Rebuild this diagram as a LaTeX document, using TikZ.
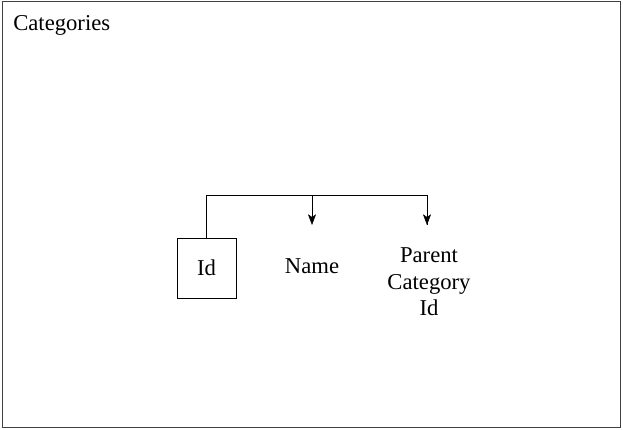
\documentclass[tikz,border=0pt]{standalone}
\usepackage{fontspec}
\setmainfont{Liberation Serif}
\usetikzlibrary{positioning, arrows.meta}
\tikzset{
    attr/.style={font=\fontsize{17}{20}\selectfont, align=center, inner sep=0pt},
    keybox/.style={attr, draw, minimum width=44.25pt, minimum height=45pt},
    link/.style={-{Stealth[length=8pt, width=6pt, inset=2pt]}}
}
\begin{document}
\begin{tikzpicture}[x=0.75pt, y=-0.75pt]
            \useasboundingbox (0, 0) rectangle (623, 429);
            \draw[draw=black!75] (2, 1) rectangle (620, 427);

            \node[attr, anchor=north west] (title) at (13, 15) {Categories};

            \node[keybox] (id) at (206.5, 268) {Id};
            \node[attr] (name) at (312, 266) {Name};
            \node[attr] (parent) at (429, 282) {Parent\\Category\\Id};

            \coordinate (top) at (206.5, 195.5);
            \coordinate (nametip) at (312, 225);
            \coordinate (parenttip) at (427, 225);

            \draw (id.north) -- (top) -- (top -| parenttip) -- (parenttip);
            \draw[link] (top -| nametip) -- (nametip);
            \draw[link] (top -| parenttip) -- (parenttip);
        \end{tikzpicture}
\end{document}
